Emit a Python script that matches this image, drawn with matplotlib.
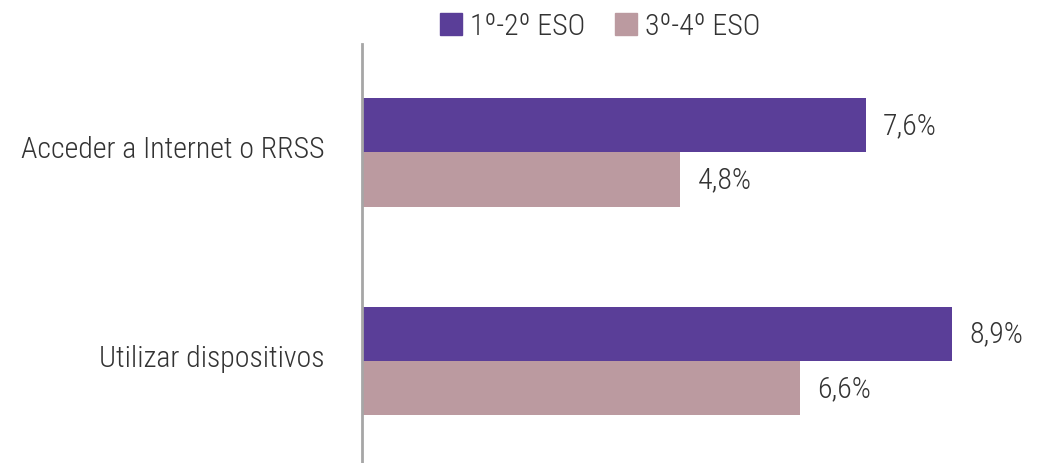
import matplotlib
matplotlib.use("Agg")
import matplotlib.pyplot as plt
from matplotlib.patches import Patch
from matplotlib.transforms import ScaledTranslation
import numpy as np

plt.rcParams['font.family'] = ['Roboto Condensed', 'DejaVu Sans']
plt.rcParams['font.weight'] = 'light'

categories = ["Acceder a Internet o RRSS", "Utilizar dispositivos"]
series_names = ["1º-2º ESO", "3º-4º ESO"]
vals_12 = [7.6, 8.9]
vals_34 = [4.8, 6.6]
colors = ["#5a3e98", "#bb9aa0"]
text_color = "#333333"
fs = 21.5

fig = plt.figure(figsize=(10.51, 4.64), dpi=100)
ax = fig.add_axes([362 / 1051, 0, 663 / 1051, 419 / 464])

y = np.arange(len(categories))
h = 0.26
b1 = ax.barh(y - h / 2, vals_12, height=h, color=colors[0])
b2 = ax.barh(y + h / 2, vals_34, height=h, color=colors[1])

for bars, vals in ((b1, vals_12), (b2, vals_34)):
    for bar, v in zip(bars, vals):
        ax.text(bar.get_width() + 0.26, bar.get_y() + bar.get_height() / 2,
                f"{v:.1f}%".replace(".", ","), va="center", ha="left",
                fontsize=fs, color=text_color)

ax.set_xlim(0, 10)
ax.set_ylim(1.49, -0.52)
ax.set_yticks(y)
ax.set_yticklabels(categories, fontsize=fs, color=text_color)
ax.tick_params(axis="y", length=0, pad=27)
# labels sit a little above the bar pair centre in the original
shift = ScaledTranslation(0, 6 / 100, fig.dpi_scale_trans)
for lbl in ax.get_yticklabels():
    lbl.set_transform(lbl.get_transform() + shift)
ax.set_xticks([])
for s in ("top", "right", "bottom"):
    ax.spines[s].set_visible(False)
ax.spines["left"].set_color("#a6a6a6")
ax.spines["left"].set_linewidth(2)

handles = [Patch(color=c) for c in colors]
fig.legend(handles, series_names, loc="center", bbox_to_anchor=(600 / 1051, 1 - 27 / 464),
           ncol=2, frameon=False, fontsize=fs, handlelength=0.75, handleheight=0.75,
           handletextpad=0.25, columnspacing=1.0, labelcolor=text_color)

fig.savefig("out.png", dpi=100)
